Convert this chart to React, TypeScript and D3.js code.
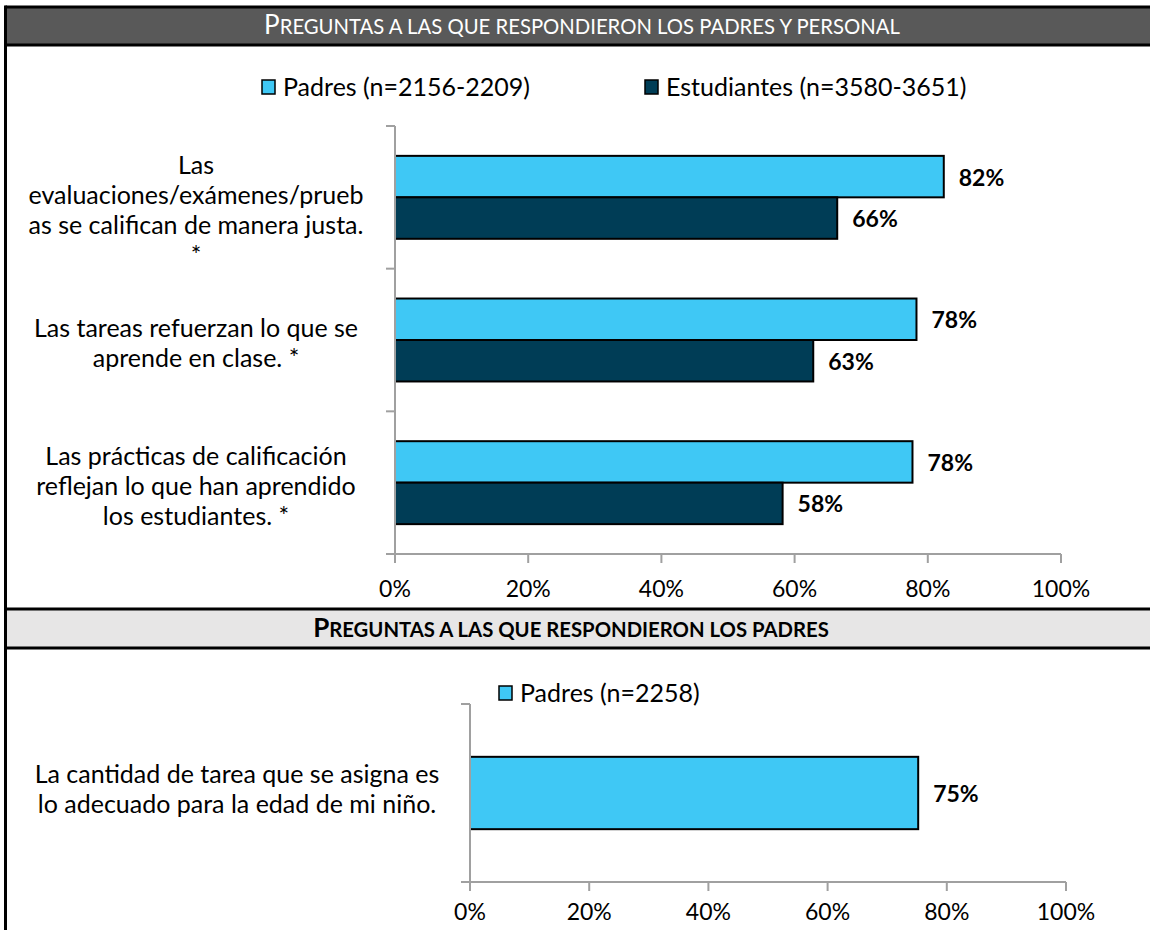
import React from "react";
import * as d3 from "d3";

const W = 1150;
const H = 930;
const FONT = "Lato, 'Open Sans', sans-serif";

// ---- data ----
const title1 = "Preguntas a las que respondieron los padres y personal";
const title2 = "Preguntas a las que respondieron los padres";
const seriesNames1 = ["Padres (n=2156-2209)", "Estudiantes (n=3580-3651)"];
const seriesNames2 = ["Padres (n=2258)"];
const categories1 = [
  ["Las", "evaluaciones/exámenes/prueb", "as se califican de manera justa.", "*"],
  ["Las tareas refuerzan lo que se", "aprende en clase. *"],
  ["Las prácticas de calificación", "reflejan lo que han aprendido", "los estudiantes. *"],
];
const padres1 = [82.4, 78.3, 77.7];
const estudiantes1 = [66.4, 62.8, 58.2];
const categories2 = [["La cantidad de tarea que se asigna es", "lo adecuado para la edad de mi niño."]];
const padres2 = [75.2];
const tickValues = [0, 20, 40, 60, 80, 100];
const colors = ["#3FC8F5", "#003D56"];

const fmt = (v: number) => d3.format(".0%")(v / 100);

function Header({ y, h, text, dark, cx }: { y: number; h: number; text: string; dark: boolean; cx: number }) {
  const first = text.charAt(0).toUpperCase();
  const rest = text.slice(1).toUpperCase();
  return (
    <g>
      <rect x={7} y={y} width={W - 7} height={h} fill={dark ? "#595959" : "#E7E6E6"} />
      <line x1={5.5} x2={W} y1={y} y2={y} stroke="#000" strokeWidth={3} />
      <line x1={5.5} x2={W} y1={y + h} y2={y + h} stroke="#000" strokeWidth={3} />
      <text
        x={cx}
        y={y + h / 2 + 8}
        textAnchor="middle"
        fontFamily={FONT}
        fontWeight={dark ? 400 : 700}
        fill={dark ? "#fff" : "#000"}
      >
        <tspan fontSize={26}>{first}</tspan>
        <tspan fontSize={20.3}>{rest}</tspan>
      </text>
    </g>
  );
}

function Legend({ items, xs, y }: { items: string[]; xs: number[]; y: number }) {
  return (
    <g>
      {items.map((t, i) => (
        <g key={t} transform={`translate(${xs[i]},${y})`}>
          <rect x={0} y={-7} width={13} height={14} fill={colors[i]} stroke="#000" strokeWidth={1.5} />
          <text x={21} y={8.5} fontFamily={FONT} fontSize={25} fill="#000">{t}</text>
        </g>
      ))}
    </g>
  );
}

function BarChart({
  cats,
  series,
  x0,
  x1,
  y0,
  y1,
  labelCx,
  labelShift,
  innerPad,
  tickLabelOffset,
}: {
  cats: string[][];
  series: number[][];
  x0: number;
  x1: number;
  y0: number;
  y1: number;
  labelCx: number;
  labelShift: number;
  innerPad: number;
  tickLabelOffset: number;
}) {
  const x = d3.scaleLinear().domain([0, 100]).range([x0, x1]);
  const keys = cats.map((_, i) => String(i));
  const yb = d3.scaleBand().domain(keys).range([y0, y1]).padding(0);
  const bw = yb.bandwidth();
  const ys = d3
    .scaleBand()
    .domain(series.map((_, i) => String(i)))
    .range([0, bw])
    .paddingInner(0)
    .paddingOuter(innerPad);
  const lh = 30;
  const boundaries = [y0, ...keys.map((k) => (yb(k) as number) + bw)];
  return (
    <g>
      {keys.map((k, ci) =>
        series.map((s, si) => {
          const by = (yb(k) as number) + (ys(String(si)) as number);
          const h = ys.bandwidth();
          return (
            <g key={k + "-" + si}>
              <rect
                x={x(0)}
                y={by}
                width={x(s[ci]) - x(0)}
                height={h}
                fill={colors[si]}
                stroke="#000"
                strokeWidth={2}
              />
              <text
                x={x(s[ci]) + 15}
                y={by + h / 2 + 9}
                fontFamily={FONT}
                fontWeight={700}
                fontSize={23}
                fill="#000"
              >
                {fmt(s[ci])}
              </text>
            </g>
          );
        })
      )}
      <g stroke="#A0A0A0" strokeWidth={2} fill="none">
        <line x1={x0} x2={x0} y1={y0} y2={y1 + 9} />
        <line x1={x0 - 9} x2={x1} y1={y1} y2={y1} />
        {boundaries.map((b, i) => (
          <line key={"yt" + i} x1={x0 - 9} x2={x0} y1={b} y2={b} />
        ))}
        {tickValues.map((t) => (
          <line key={"xt" + t} x1={x(t)} x2={x(t)} y1={y1} y2={y1 + 9} />
        ))}
      </g>
      {tickValues.map((t) => (
        <text
          key={"xl" + t}
          x={x(t)}
          y={y1 + tickLabelOffset}
          textAnchor="middle"
          fontFamily={FONT}
          fontSize={23}
          fill="#000"
        >
          {fmt(t)}
        </text>
      ))}
      {cats.map((lines, ci) => {
        const c = (yb(keys[ci]) as number) + bw / 2;
        const first = Math.max(c + labelShift - ((lines.length - 1) * lh) / 2, (yb(keys[ci]) as number) + 40);
        return (
          <text key={"cl" + ci} textAnchor="middle" fontFamily={FONT} fontSize={25} fill="#000">
            {lines.map((ln, li) => (
              <tspan key={li} x={labelCx} y={first + li * lh + 8}>
                {ln}
              </tspan>
            ))}
          </text>
        );
      })}
    </g>
  );
}

export default function App() {
  return (
    <svg
      width={W}
      height={H}
      viewBox={`0 0 ${W} ${H}`}
      style={{ position: "absolute", left: 0, top: 0, display: "block", background: "#fff" }}
    >
      <rect x={0} y={0} width={W} height={H} fill="#fff" />
      <Header y={7} h={38} text={title1} dark={true} cx={582} />
      <Legend items={seriesNames1} xs={[262, 645]} y={87} />
      <BarChart
        cats={categories1}
        series={[padres1, estudiantes1]}
        x0={395}
        x1={1061}
        y0={126}
        y1={554}
        labelCx={196}
        labelShift={4}
        innerPad={0.72}
        tickLabelOffset={43}
      />
      <Header y={609} h={39} text={title2} dark={false} cx={571} />
      <Legend items={seriesNames2} xs={[499]} y={693} />
      <BarChart
        cats={categories2}
        series={[padres2]}
        x0={470}
        x1={1066}
        y0={704}
        y1={882}
        labelCx={237}
        labelShift={-3}
        innerPad={0.73}
        tickLabelOffset={38}
      />
      <line x1={5.5} x2={5.5} y1={5.5} y2={H} stroke="#000" strokeWidth={3} />
    </svg>
  );
}
